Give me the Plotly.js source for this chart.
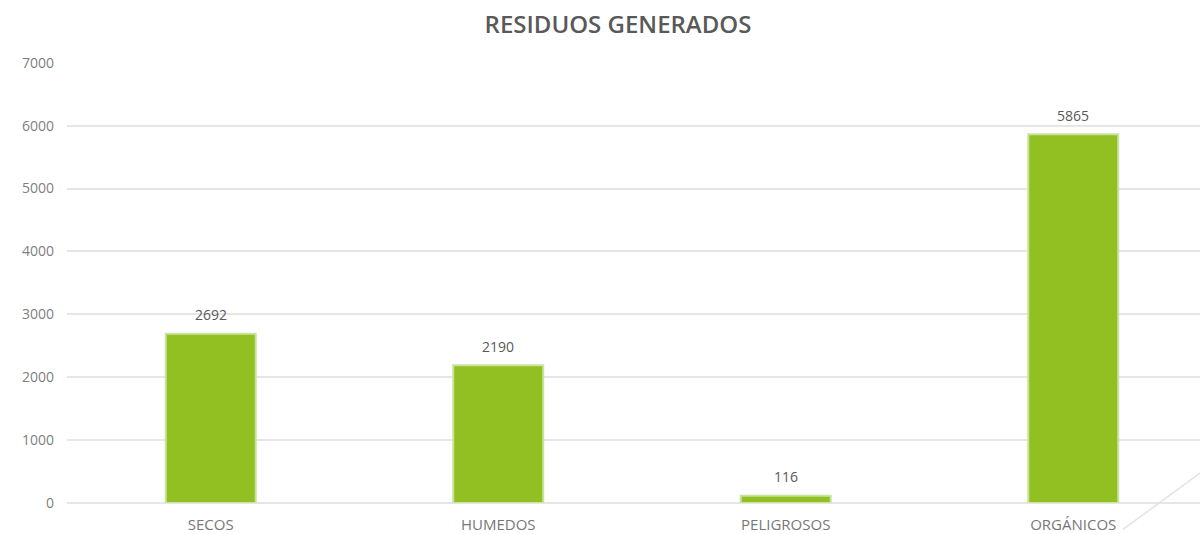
<!DOCTYPE html>
<html>
<head>
<meta charset="utf-8">
<script src="https://cdn.plot.ly/plotly-3.0.1.min.js"></script>
<style>
  html, body { margin: 0; padding: 0; background: #fff; }
  #chart { width: 1200px; height: 534px; }
</style>
</head>
<body>
<div id="chart"></div>
<script>
var categories = ["SECOS", "HUMEDOS", "PELIGROSOS", "ORGÁNICOS"];
var residuos = [2692, 2190, 116, 5865];
var yTicks = [0, 1000, 2000, 3000, 4000, 5000, 6000, 7000];

var data = [{
  type: 'bar',
  x: categories,
  y: residuos,
  width: 0.313,
  marker: {
    color: '#92c023',
    line: { color: '#c8e39d', width: 2 }
  },
  hoverinfo: 'x+y'
}];

// value labels above each bar
var labels = categories.map(function(c, i) {
  return {
    x: c, y: residuos[i], xref: 'x', yref: 'y',
    text: String(residuos[i]),
    showarrow: false,
    yanchor: 'middle',
    yshift: 19,
    font: { family: 'Open Sans, sans-serif', size: 14, color: '#595959' }
  };
});

var layout = {
  width: 1200,
  height: 534,
  margin: { l: 67, r: 0, t: 62, b: 31 },
  paper_bgcolor: '#ffffff',
  plot_bgcolor: '#ffffff',
  showlegend: false,
  title: {
    text: 'RESIDUOS GENERADOS',
    x: 0.515,
    xanchor: 'center',
    y: 0.953,
    yanchor: 'middle',
    font: { family: 'Open Sans, sans-serif', size: 24, weight: 600, color: '#595959' }
  },
  xaxis: {
    type: 'category',
    range: [-0.5, 3.441],
    showgrid: false,
    zeroline: false,
    showline: false,
    ticks: '',
    ticklabelstandoff: 11,
    tickfont: { family: 'Open Sans, sans-serif', size: 15, color: '#777777' }
  },
  yaxis: {
    range: [0, 7012],
    tickvals: yTicks,
    ticktext: yTicks.map(String),
    showgrid: true,
    gridcolor: '#e6e6e6',
    gridwidth: 2,
    zeroline: true,
    zerolinecolor: '#e6e6e6',
    zerolinewidth: 2,
    ticks: '',
    ticklabelstandoff: 12,
    tickfont: { family: 'Open Sans, sans-serif', size: 14, color: '#808080' }
  },
  annotations: labels,
  shapes: [{
    type: 'line', xref: 'paper', yref: 'paper',
    x0: 0.932, y0: -0.06, x1: 1.0, y1: 0.068,
    line: { color: '#e2e2e2', width: 1.5 }
  }]
};

Plotly.newPlot('chart', data, layout, { displayModeBar: false, responsive: false });
</script>
</body>
</html>
